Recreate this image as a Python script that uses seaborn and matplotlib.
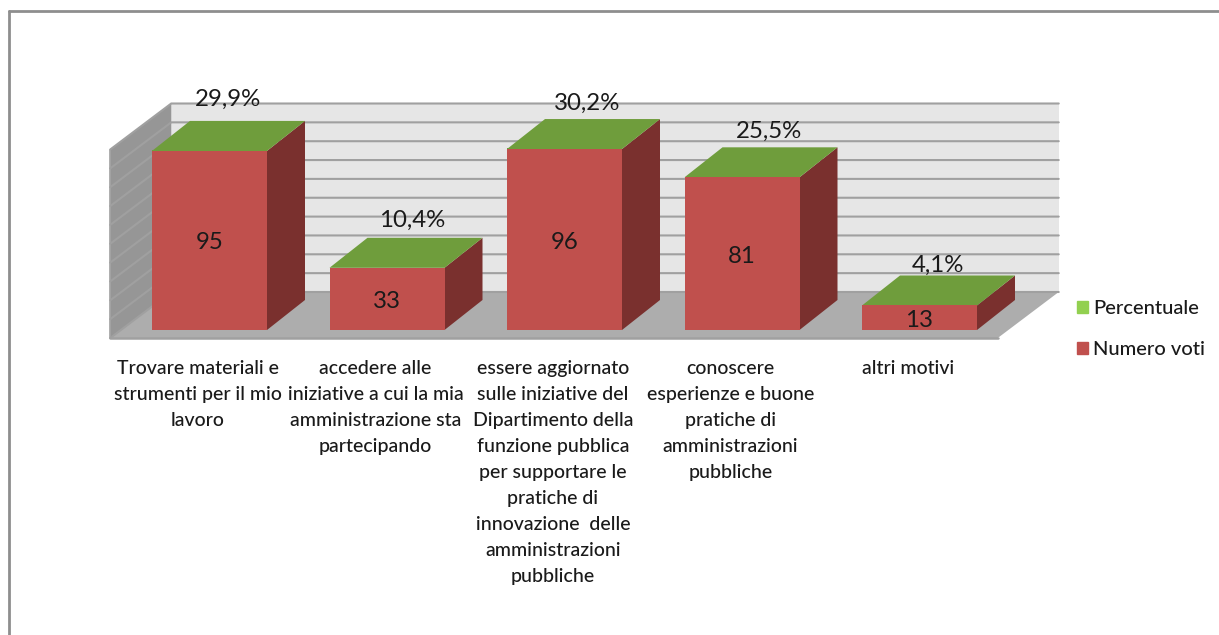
import matplotlib
matplotlib.use("Agg")
import matplotlib.pyplot as plt
import seaborn as sns
from matplotlib.patches import Polygon, Patch
from matplotlib.transforms import ScaledTranslation

categorie = [
    "Trovare materiali e\nstrumenti per il mio\nlavoro",
    "accedere alle\niniziative a cui la mia\namministrazione sta\npartecipando",
    "essere aggiornato\nsulle iniziative del\nDipartimento della\nfunzione pubblica\nper supportare le\npratiche di\ninnovazione  delle\namministrazioni\npubbliche",
    "conoscere\nesperienze e buone\npratiche di\namministrazioni\npubbliche",
    "altri motivi",
]
numero_voti = [95, 33, 96, 81, 13]
percentuale = [0.299, 0.104, 0.302, 0.255, 0.041]
percentuale_txt = ["29,9%", "10,4%", "30,2%", "25,5%", "4,1%"]
griglia = [0, 10, 20, 30, 40, 50, 60, 70, 80, 90, 100]

# small nudges (px) of the percent labels, they don't sit in a regular place
nudge_x = [18, 25, 23, 27, 18]
nudge_y = [22, 17, 16, 16, 10]

ROSSO = "#c0504d"
ROSSO_SCURO = "#7a302e"
VERDE = "#6f9d3c"
VERDE_LEG = "#92d050"
PARETE = "#e6e6e6"
PARETE_SX = "#969696"
PAVIMENTO = "#adadad"
LINEA = "#a0a0a0"
TESTO = "#1a1a1a"

px_x = 177.5   # px for one category
px_y = 1.885   # px for one vote
W, H = 1219, 635

sns.set_theme(style="white")
plt.rcParams["font.family"] = ["Lato", "DejaVu Sans"]

fig = plt.figure(figsize=(W / 100, H / 100), dpi=100)
ax = fig.add_axes([120.75 / W, (H - 330) / H, 887.5 / W, 188.5 / H])
ax.patch.set_alpha(0)


def sposta(x, y, dx, dy):
    # shift a data point by a pixel offset, dy positive goes up
    return (x + dx / px_x, y + dy / px_y)


def poligono(punti, colore, z):
    ax.add_patch(Polygon(punti, closed=True, facecolor=colore, edgecolor="none", clip_on=False, zorder=z))


# chart box walls and floor, the bar plane is 10.5/8 px behind the floor front
x0, x1 = -0.5, 4.5
fronte = (-10.5, -8)
retro = (50.5, 38)
poligono([sposta(x0, 0, *retro), sposta(x1, 0, *retro), sposta(x1, 100, *retro), sposta(x0, 100, *retro)], PARETE, 0.5)
poligono([sposta(x0, 0, *fronte), sposta(x0, 0, *retro), sposta(x0, 100, *retro), sposta(x0, 100, *fronte)], PARETE_SX, 0.5)
poligono([sposta(x0, 0, *fronte), sposta(x1, 0, *fronte), sposta(x1, 0, *retro), sposta(x0, 0, *retro)], PAVIMENTO, 0.6)

for g in griglia:
    a, b, c = sposta(x0, g, *fronte), sposta(x0, g, *retro), sposta(x1, g, *retro)
    ax.plot([a[0], b[0], c[0]], [a[1], b[1], c[1]], color=LINEA, lw=1.5, clip_on=False, zorder=0.55 if g else 0.7,
            solid_joinstyle="miter")
a, b = sposta(x0, 0, *fronte), sposta(x1, 0, *fronte)
ax.plot([a[0], b[0]], [a[1], b[1]], color=LINEA, lw=1.8, clip_on=False, zorder=0.7)
a, b = sposta(x0, 0, *fronte), sposta(x0, 100, *fronte)
ax.plot([a[0], b[0]], [a[1], b[1]], color=LINEA, lw=1.2, clip_on=False, zorder=0.7)

sns.barplot(x=categorie, y=numero_voti, color=ROSSO, width=115 / 177.5, saturation=1, linewidth=0, ax=ax, zorder=2)
sns.barplot(x=categorie, y=percentuale, bottom=numero_voti, color=VERDE, width=115 / 177.5, saturation=1, linewidth=0, ax=ax, zorder=2)

# depth of each bar
prof = (38, 30)
barre = ax.patches[-10:-5]
for i, b in enumerate(barre):
    sx, dx, h = b.get_x(), b.get_x() + b.get_width(), b.get_height()
    poligono([(dx, 0), sposta(dx, 0, *prof), sposta(dx, h, *prof), (dx, h)], ROSSO_SCURO, 1.8)
    poligono([(sx, h), (dx, h), sposta(dx, h, *prof), sposta(sx, h, *prof)], VERDE, 1.9)
    tx, ty = sposta(i, h / 2, 0, -2.5)
    ax.text(tx, ty, str(numero_voti[i]), ha="center", va="center", fontsize=17.3, color=TESTO, zorder=3)
    px, py = sposta(i, h, nudge_x[i], prof[1] + nudge_y[i])
    ax.text(px, py, percentuale_txt[i], ha="center", va="center", fontsize=17.3, color=TESTO, zorder=3)

ax.set_xlim(x0, x1)
ax.set_ylim(0, 100)
sns.despine(ax=ax, left=True, bottom=True)
ax.set_yticks([])
ax.set_xlabel("")
ax.set_ylabel("")
ax.tick_params(axis="x", length=0, pad=21.5)
sposta_lab = ScaledTranslation(-11.5 / 100, 0, fig.dpi_scale_trans)
for lab in ax.get_xticklabels():
    lab.set_fontsize(14)
    lab.set_fontweight("medium")
    lab.set_linespacing(1.64)
    lab.set_color(TESTO)
    lab.set_transform(lab.get_transform() + sposta_lab)

maniglie = [Patch(color=VERDE_LEG, label="Percentuale"), Patch(color=ROSSO, label="Numero voti")]
leg = fig.legend(handles=maniglie, loc="upper left", bbox_to_anchor=(1077 / W, 1 - 300 / H), frameon=False, fontsize=14.5,
                 handlelength=0.55, handleheight=0.55, handletextpad=0.25, labelspacing=1.2, borderpad=0, borderaxespad=0,
                 labelcolor=TESTO)
for t in leg.get_texts():
    t.set_fontweight("medium")

# outer frame of the chart, only top and left are in the screenshot
fig.add_artist(plt.Line2D([8.5 / W, 8.5 / W], [0, 1 - 11 / H], color="#8e8e8e", lw=2))
fig.add_artist(plt.Line2D([8.5 / W, 1], [1 - 11 / H, 1 - 11 / H], color="#8e8e8e", lw=2))

fig.savefig("out.png", dpi=100)
